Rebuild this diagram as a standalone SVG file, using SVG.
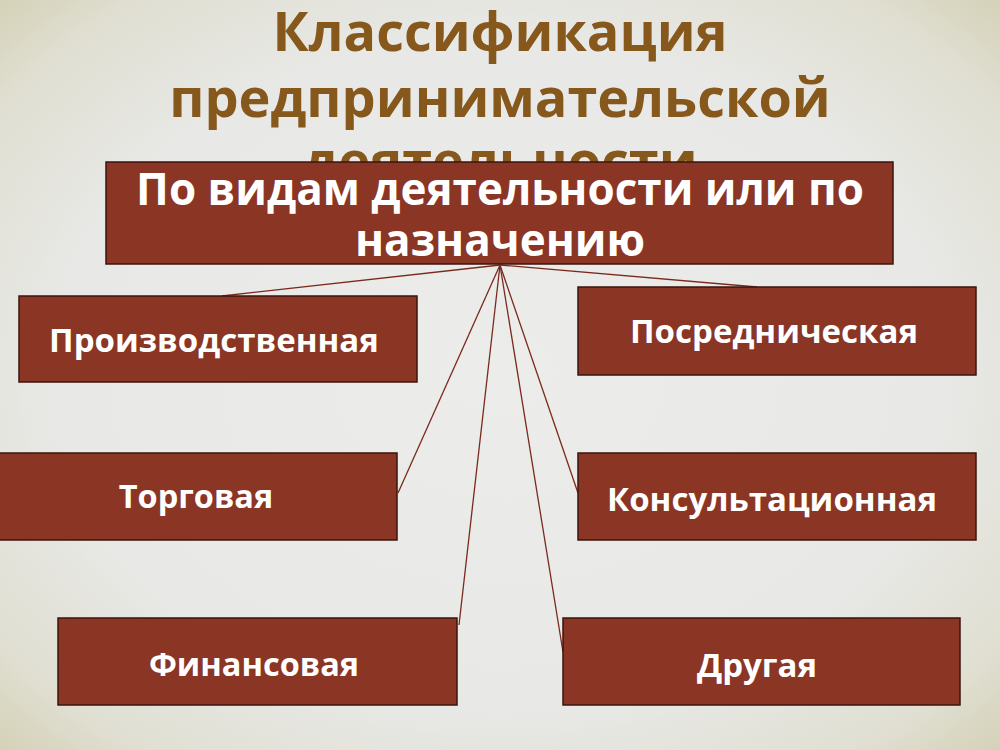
<svg xmlns="http://www.w3.org/2000/svg" width="1000" height="750" viewBox="0 0 1000 750">
  <defs>
    <radialGradient id="bg" cx="50%" cy="50%" r="72%">
      <stop offset="0" stop-color="#ececeb"/>
      <stop offset="0.62" stop-color="#e8e8e6"/>
      <stop offset="0.85" stop-color="#e0dfd2"/>
      <stop offset="1" stop-color="#d3d0b4"/>
    </radialGradient>
    <style>
      .title { font-family: "Open Sans", "Noto Sans", "DejaVu Sans", sans-serif; font-weight: 700; font-size: 54px; fill: #86581c; text-anchor: middle; }
      .box { fill: #8b3524; stroke: #3b140c; stroke-width: 1.5; }
      .lbl { font-family: "Open Sans", "Noto Sans", "DejaVu Sans", sans-serif; font-weight: 700; fill: #ffffff; text-anchor: middle; }
      .conn { stroke: #7a2a1c; stroke-width: 1.3; fill: none; }
    </style>
  </defs>
  <rect x="0" y="0" width="1000" height="750" fill="url(#bg)"/>

  <g id="title">
    <text class="title" x="500" y="51">Классификация</text>
    <text class="title" x="500" y="117">предпринимательской</text>
    <text class="title" x="500" y="180">деятельности</text>
  </g>

  <g id="connectors">
    <line class="conn" x1="500" y1="265" x2="222" y2="296"/>
    <line class="conn" x1="500" y1="265" x2="757" y2="287"/>
    <line class="conn" x1="500" y1="265" x2="398" y2="493"/>
    <line class="conn" x1="500" y1="265" x2="578" y2="493"/>
    <line class="conn" x1="500" y1="265" x2="459" y2="625"/>
    <line class="conn" x1="500" y1="265" x2="563" y2="652"/>
  </g>

  <g id="root">
    <rect class="box" x="106" y="162" width="787" height="102"/>
    <text class="lbl" x="500" y="205" font-size="44">По видам деятельности или по</text>
    <text class="lbl" x="500" y="256" font-size="44">назначению</text>
  </g>

  <g id="proizvodstvennaya">
    <rect class="box" x="19" y="296" width="398" height="86"/>
    <text class="lbl" x="214" y="352" font-size="33">Производственная</text>
  </g>

  <g id="posrednicheskaya">
    <rect class="box" x="578" y="287" width="398" height="88"/>
    <text class="lbl" x="774" y="343" font-size="33">Посредническая</text>
  </g>

  <g id="torgovaya">
    <rect class="box" x="-2" y="453" width="399" height="87"/>
    <text class="lbl" x="196" y="508" font-size="32.5">Торговая</text>
  </g>

  <g id="konsultatsionnaya">
    <rect class="box" x="578" y="453" width="398" height="87"/>
    <text class="lbl" x="772" y="511" font-size="33">Консультационная</text>
  </g>

  <g id="finansovaya">
    <rect class="box" x="58" y="618" width="399" height="87"/>
    <text class="lbl" x="254" y="676" font-size="32.5">Финансовая</text>
  </g>

  <g id="drugaya">
    <rect class="box" x="563" y="618" width="397" height="87"/>
    <text class="lbl" x="757" y="677" font-size="33">Другая</text>
  </g>
</svg>
